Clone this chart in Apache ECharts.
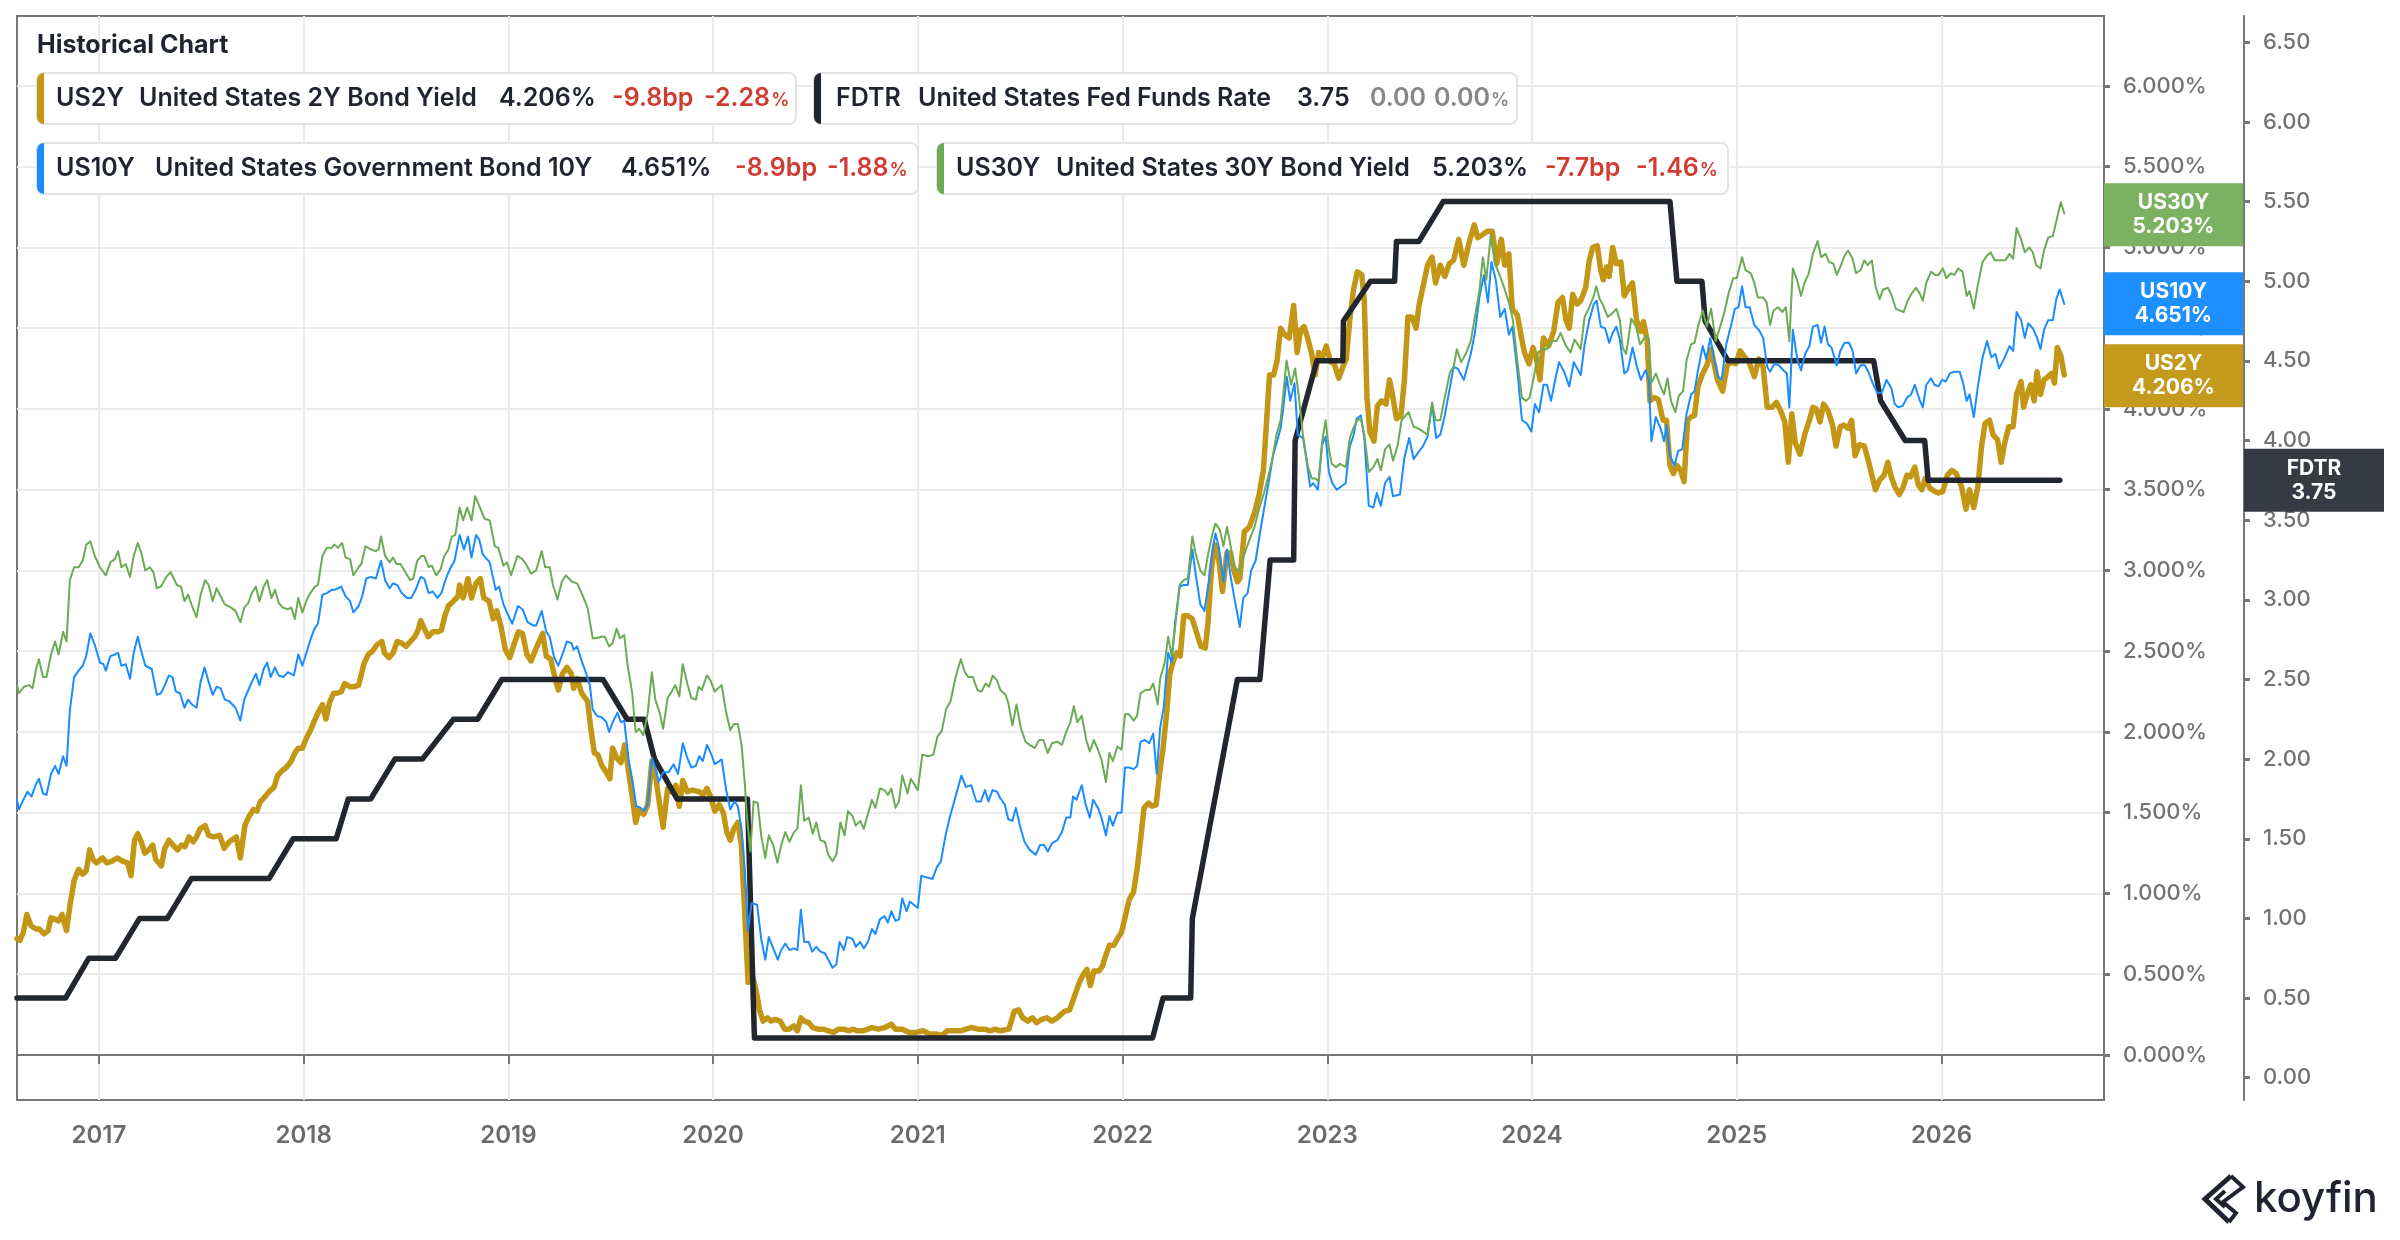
<!DOCTYPE html>
<html><head><meta charset="utf-8">
<script src="https://cdn.jsdelivr.net/npm/echarts@6/dist/echarts.min.js"></script>
<style>html,body{margin:0;padding:0;background:#fff}#c{width:2400px;height:1240px}</style>
</head><body><div id="c"></div>
<script>
// ---------- DATA ----------
const yearTicks = [2017,2018,2019,2020,2021,2022,2023,2024,2025,2026];
const pctTicks = [0,0.5,1,1.5,2,2.5,3,3.5,4,4.5,5,5.5,6];
const rateTicks = [0,0.5,1,1.5,2,2.5,3,3.5,4,4.5,5,5.5,6,6.5];

const us2y = [
[2016.600,0.72],[2016.614,0.71],[2016.631,0.76],[2016.648,0.87],[2016.668,0.80],[2016.693,0.78],[2016.710,0.78],[2016.732,0.75],[2016.752,0.77],[2016.766,0.85],[2016.786,0.84],[2016.803,0.83],[2016.820,0.87],[2016.842,0.77],[2016.858,0.92],[2016.879,1.08],[2016.901,1.15],[2016.921,1.12],[2016.938,1.14],[2016.955,1.27],[2016.971,1.21],[2016.988,1.19],[2017.017,1.22],[2017.039,1.19],[2017.064,1.20],[2017.089,1.22],[2017.115,1.20],[2017.140,1.19],[2017.157,1.11],[2017.174,1.33],[2017.190,1.37],[2017.207,1.32],[2017.224,1.25],[2017.244,1.27],[2017.263,1.30],[2017.278,1.21],[2017.305,1.17],[2017.322,1.28],[2017.342,1.33],[2017.362,1.30],[2017.384,1.27],[2017.404,1.30],[2017.421,1.29],[2017.440,1.35],[2017.460,1.32],[2017.477,1.35],[2017.494,1.40],[2017.519,1.42],[2017.536,1.36],[2017.561,1.35],[2017.590,1.36],[2017.612,1.28],[2017.637,1.32],[2017.671,1.35],[2017.691,1.22],[2017.713,1.42],[2017.730,1.47],[2017.755,1.52],[2017.772,1.51],[2017.789,1.57],[2017.805,1.59],[2017.831,1.63],[2017.856,1.66],[2017.873,1.73],[2017.895,1.76],[2017.915,1.78],[2017.940,1.82],[2017.957,1.87],[2017.974,1.90],[2017.994,1.90],[2018.013,1.96],[2018.033,2.01],[2018.053,2.07],[2018.075,2.13],[2018.092,2.17],[2018.109,2.08],[2018.126,2.18],[2018.146,2.24],[2018.163,2.24],[2018.184,2.25],[2018.201,2.30],[2018.227,2.28],[2018.243,2.28],[2018.269,2.29],[2018.294,2.42],[2018.316,2.48],[2018.336,2.50],[2018.358,2.54],[2018.382,2.56],[2018.395,2.49],[2018.417,2.46],[2018.437,2.49],[2018.457,2.56],[2018.479,2.55],[2018.500,2.53],[2018.521,2.56],[2018.543,2.59],[2018.559,2.63],[2018.572,2.69],[2018.589,2.64],[2018.609,2.59],[2018.631,2.62],[2018.653,2.62],[2018.673,2.63],[2018.690,2.72],[2018.707,2.78],[2018.732,2.81],[2018.754,2.84],[2018.762,2.91],[2018.779,2.83],[2018.803,2.95],[2018.820,2.83],[2018.842,2.92],[2018.863,2.95],[2018.880,2.83],[2018.906,2.81],[2018.926,2.70],[2018.943,2.75],[2018.963,2.66],[2018.985,2.51],[2019.007,2.46],[2019.027,2.54],[2019.049,2.62],[2019.069,2.61],[2019.091,2.48],[2019.111,2.44],[2019.133,2.51],
[2019.168,2.61],[2019.185,2.47],[2019.207,2.45],[2019.227,2.34],[2019.244,2.26],[2019.264,2.36],[2019.286,2.40],[2019.308,2.36],[2019.319,2.27],[2019.336,2.33],[2019.358,2.24],[2019.387,2.19],[2019.403,2.02],[2019.420,1.87],[2019.437,1.86],[2019.457,1.79],[2019.479,1.75],[2019.496,1.71],[2019.509,1.90],[2019.529,1.84],[2019.550,1.81],[2019.568,1.92],[2019.588,1.75],[2019.605,1.60],[2019.622,1.44],[2019.639,1.52],[2019.661,1.49],[2019.681,1.55],[2019.701,1.82],[2019.719,1.73],[2019.739,1.55],[2019.756,1.41],[2019.778,1.65],[2019.798,1.63],[2019.818,1.67],[2019.835,1.54],[2019.852,1.70],[2019.874,1.63],[2019.899,1.64],[2019.933,1.63],[2019.950,1.61],[2019.970,1.65],[2019.988,1.60],[2020.008,1.51],[2020.030,1.55],[2020.050,1.50],[2020.067,1.38],[2020.084,1.33],[2020.101,1.40],[2020.121,1.44],[2020.138,1.30],[2020.155,0.87],[2020.171,0.45],[2020.188,0.51],[2020.210,0.40],[2020.227,0.28],[2020.244,0.21],[2020.266,0.23],[2020.282,0.21],[2020.303,0.22],[2020.328,0.21],[2020.350,0.16],[2020.370,0.16],[2020.395,0.18],[2020.412,0.15],[2020.429,0.23],[2020.445,0.21],[2020.467,0.20],[2020.487,0.17],[2020.513,0.16],[2020.538,0.16],[2020.563,0.15],[2020.588,0.14],[2020.613,0.16],[2020.639,0.16],[2020.664,0.15],[2020.681,0.16],[2020.706,0.15],[2020.731,0.15],[2020.756,0.16],[2020.776,0.17],[2020.807,0.16],[2020.840,0.17],[2020.871,0.19],[2020.891,0.16],[2020.924,0.16],[2020.958,0.14],[2020.992,0.14],[2021.025,0.15],[2021.059,0.13],[2021.092,0.13],[2021.118,0.12],[2021.143,0.15],[2021.176,0.15],[2021.210,0.15],[2021.235,0.16],[2021.261,0.17],[2021.294,0.16],[2021.328,0.16],[2021.353,0.15],[2021.378,0.16],[2021.403,0.15],[2021.445,0.16],[2021.471,0.27],[2021.492,0.28],[2021.513,0.23],[2021.538,0.21],[2021.560,0.23],[2021.580,0.20],[2021.605,0.22],[2021.630,0.23],[2021.655,0.21],[2021.681,0.23],
[2021.716,0.27],[2021.742,0.28],[2021.767,0.37],[2021.789,0.45],[2021.809,0.50],[2021.826,0.53],[2021.843,0.43],[2021.860,0.52],[2021.885,0.52],[2021.902,0.55],[2021.919,0.62],[2021.936,0.68],[2021.958,0.68],[2021.975,0.72],[2021.995,0.76],[2022.012,0.85],[2022.032,0.96],[2022.054,1.01],[2022.071,1.15],[2022.088,1.33],[2022.105,1.53],[2022.127,1.56],[2022.144,1.54],[2022.164,1.55],[2022.181,1.74],[2022.198,1.90],[2022.215,2.11],[2022.231,2.36],[2022.248,2.44],[2022.265,2.49],[2022.282,2.47],[2022.299,2.72],[2022.319,2.72],[2022.341,2.70],[2022.363,2.61],[2022.383,2.53],[2022.404,2.52],[2022.417,2.67],[2022.434,3.00],[2022.451,3.16],[2022.468,3.09],[2022.488,2.87],[2022.510,3.11],[2022.527,3.11],[2022.544,3.00],[2022.561,2.93],[2022.573,2.95],[2022.595,3.24],[2022.620,3.27],[2022.645,3.36],[2022.667,3.47],[2022.688,3.62],[2022.704,3.93],[2022.718,4.21],[2022.738,4.21],[2022.755,4.30],[2022.772,4.50],[2022.792,4.46],[2022.814,4.44],[2022.836,4.64],[2022.853,4.35],[2022.870,4.49],[2022.887,4.51],[2022.904,4.44],[2022.924,4.34],[2022.941,4.21],[2022.958,4.35],[2022.975,4.31],[2022.995,4.39],[2023.017,4.29],[2023.034,4.28],[2023.056,4.19],[2023.076,4.26],[2023.093,4.31],[2023.110,4.55],[2023.127,4.73],[2023.147,4.85],[2023.169,4.83],[2023.181,4.67],[2023.194,4.07],[2023.208,3.86],[2023.228,3.80],[2023.245,4.02],[2023.265,4.05],[2023.287,4.03],[2023.304,4.18],[2023.321,4.07],[2023.338,3.94],[2023.360,3.96],[2023.377,4.18],[2023.394,4.57],[2023.414,4.57],[2023.434,4.50],[2023.448,4.64],[2023.465,4.74],[2023.490,4.89],[2023.512,4.94],[2023.529,4.78],[2023.552,4.89],[2023.574,4.82],[2023.596,4.90],[2023.617,4.92],[2023.642,5.05],[2023.667,4.89],[2023.693,5.03],[2023.718,5.14],[2023.735,5.06],[2023.760,5.08],[2023.782,5.10],[2023.806,5.10],[2023.828,4.90],[2023.850,5.05],[2023.867,4.89],[2023.887,4.96],[2023.904,4.62],[2023.929,4.58],[2023.946,4.46],[2023.963,4.35],[2023.985,4.28],[2024.005,4.38],[2024.022,4.31],[2024.039,4.18],[2024.056,4.44],[2024.081,4.39],[2024.106,4.48],[2024.127,4.66],[2024.149,4.69],[2024.166,4.55],[2024.182,4.50],[2024.199,4.71],[2024.221,4.65],[2024.238,4.67],
[2024.262,4.75],[2024.280,4.92],[2024.297,5.00],[2024.319,5.01],[2024.336,4.86],[2024.348,4.80],[2024.365,4.88],[2024.377,4.82],[2024.394,5.00],[2024.412,4.90],[2024.434,4.91],[2024.451,4.70],[2024.468,4.74],[2024.491,4.78],[2024.511,4.55],[2024.532,4.48],[2024.545,4.54],[2024.563,4.42],[2024.576,4.05],[2024.597,4.07],[2024.617,4.06],[2024.640,3.93],[2024.657,3.93],[2024.674,3.65],[2024.691,3.60],[2024.708,3.65],[2024.726,3.62],[2024.743,3.55],[2024.760,3.93],[2024.777,3.95],[2024.794,3.96],[2024.811,4.14],[2024.834,4.22],[2024.854,4.27],[2024.875,4.37],[2024.889,4.28],[2024.906,4.18],[2024.931,4.11],[2024.954,4.27],[2024.974,4.29],[2024.995,4.28],[2025.017,4.36],[2025.034,4.33],[2025.060,4.29],[2025.086,4.20],[2025.108,4.31],[2025.129,4.26],[2025.149,4.01],[2025.172,4.01],[2025.194,4.04],[2025.214,3.99],[2025.235,3.92],[2025.252,3.67],[2025.269,3.97],[2025.286,3.79],[2025.309,3.72],[2025.334,3.85],[2025.355,3.93],[2025.372,4.01],[2025.389,4.00],[2025.407,3.92],[2025.424,4.03],[2025.446,3.99],[2025.468,3.90],[2025.485,3.77],[2025.506,3.89],[2025.523,3.90],[2025.544,3.88],[2025.561,3.93],[2025.578,3.71],[2025.600,3.78],[2025.623,3.77],[2025.643,3.68],[2025.660,3.59],[2025.678,3.50],[2025.698,3.56],[2025.720,3.59],[2025.738,3.67],[2025.755,3.58],[2025.772,3.52],[2025.794,3.47],[2025.811,3.51],[2025.832,3.59],[2025.849,3.58],[2025.870,3.64],[2025.887,3.53],[2025.904,3.50],[2025.921,3.57],[2025.943,3.51],[2025.966,3.49],[2025.986,3.48],[2026.007,3.49],[2026.029,3.59],[2026.051,3.62],[2026.072,3.60],[2026.098,3.52],[2026.120,3.38],[2026.137,3.50],[2026.158,3.39],[2026.178,3.52],[2026.196,3.77],[2026.213,3.91],[2026.235,3.93],[2026.252,3.84],[2026.274,3.81],[2026.292,3.67],[2026.309,3.79],[2026.329,3.89],[2026.350,3.89],[2026.367,4.09],[2026.389,4.17],[2026.401,4.01],[2026.419,4.09],[2026.436,4.15],[2026.453,4.05],[2026.467,4.23],[2026.484,4.09],[2026.501,4.18],[2026.521,4.20],[2026.539,4.22],[2026.552,4.16],[2026.566,4.38],[2026.583,4.33],[2026.600,4.21]
];

const us10y = [
[2016.600,1.58],[2016.609,1.52],[2016.631,1.58],[2016.651,1.63],[2016.671,1.60],[2016.690,1.67],[2016.707,1.71],[2016.727,1.62],[2016.744,1.61],[2016.766,1.74],[2016.786,1.79],[2016.803,1.74],[2016.825,1.85],[2016.842,1.79],[2016.858,2.13],[2016.879,2.34],[2016.901,2.38],[2016.921,2.41],[2016.938,2.47],[2016.958,2.61],[2016.980,2.54],[2017.005,2.43],[2017.022,2.42],[2017.034,2.38],[2017.056,2.47],[2017.078,2.48],[2017.094,2.49],[2017.110,2.41],[2017.131,2.42],[2017.152,2.33],[2017.170,2.49],[2017.190,2.59],[2017.207,2.50],[2017.227,2.41],[2017.258,2.39],[2017.283,2.23],[2017.303,2.24],[2017.322,2.29],[2017.342,2.35],[2017.359,2.34],[2017.376,2.25],[2017.396,2.24],[2017.418,2.15],[2017.435,2.20],[2017.455,2.17],[2017.477,2.15],[2017.497,2.31],[2017.516,2.40],[2017.536,2.31],[2017.556,2.23],[2017.575,2.28],[2017.595,2.27],[2017.615,2.20],[2017.637,2.19],[2017.667,2.15],[2017.691,2.07],[2017.710,2.20],[2017.730,2.26],[2017.747,2.31],[2017.767,2.36],[2017.784,2.29],[2017.805,2.39],[2017.822,2.43],[2017.839,2.34],[2017.860,2.40],[2017.878,2.35],[2017.901,2.34],[2017.923,2.37],[2017.952,2.35],[2017.974,2.48],[2017.994,2.41],[2018.016,2.50],[2018.033,2.57],[2018.053,2.64],[2018.070,2.67],[2018.092,2.85],[2018.114,2.86],[2018.137,2.88],[2018.151,2.88],[2018.168,2.89],[2018.184,2.90],[2018.205,2.84],[2018.227,2.81],[2018.243,2.74],[2018.269,2.78],[2018.286,2.84],[2018.306,2.95],[2018.328,2.96],[2018.353,2.95],[2018.378,3.06],[2018.398,2.94],[2018.420,2.89],[2018.437,2.92],[2018.457,2.91],[2018.479,2.86],[2018.505,2.83],[2018.525,2.83],[2018.547,2.88],[2018.572,2.96],[2018.589,2.95],[2018.611,2.86],[2018.631,2.87],[2018.653,2.83],[2018.673,2.86],[2018.695,2.95],[2018.715,3.01],[2018.737,3.06],[2018.762,3.22],[2018.783,3.13],[2018.803,3.21],[2018.820,3.08],[2018.842,3.22],[2018.858,3.19],[2018.875,3.10],[2018.909,3.05],[2018.938,2.88],[2018.955,2.90],[2018.976,2.79],[2018.993,2.74],[2019.019,2.67],[2019.047,2.78],[2019.069,2.76],[2019.094,2.68],[2019.120,2.66],[2019.136,2.66],
[2019.163,2.75],[2019.185,2.62],[2019.202,2.59],[2019.224,2.46],[2019.244,2.41],[2019.264,2.48],[2019.286,2.56],[2019.308,2.55],[2019.319,2.51],[2019.336,2.53],[2019.358,2.44],[2019.378,2.37],[2019.398,2.29],[2019.412,2.14],[2019.432,2.10],[2019.457,2.09],[2019.479,2.06],[2019.492,2.00],[2019.513,2.07],[2019.533,2.12],[2019.550,2.06],[2019.566,2.07],[2019.588,1.82],[2019.605,1.71],[2019.625,1.54],[2019.647,1.53],[2019.664,1.51],[2019.681,1.55],[2019.701,1.84],[2019.718,1.78],[2019.734,1.69],[2019.756,1.75],[2019.782,1.75],[2019.807,1.80],[2019.829,1.74],[2019.852,1.93],[2019.874,1.84],[2019.894,1.78],[2019.916,1.79],[2019.933,1.85],[2019.950,1.82],[2019.970,1.92],[2019.992,1.86],[2020.008,1.80],[2020.042,1.83],[2020.064,1.64],[2020.084,1.52],[2020.104,1.57],[2020.121,1.54],[2020.139,1.40],[2020.155,1.14],[2020.171,0.77],[2020.188,0.94],[2020.215,0.93],[2020.235,0.72],[2020.255,0.59],[2020.272,0.73],[2020.294,0.66],[2020.316,0.59],[2020.333,0.65],[2020.353,0.69],[2020.373,0.65],[2020.395,0.66],[2020.412,0.65],[2020.429,0.90],[2020.445,0.70],[2020.467,0.70],[2020.484,0.64],[2020.504,0.67],[2020.524,0.64],[2020.546,0.63],[2020.563,0.59],[2020.583,0.54],[2020.602,0.56],[2020.618,0.70],[2020.639,0.65],[2020.655,0.73],[2020.681,0.72],[2020.697,0.67],[2020.719,0.70],[2020.736,0.66],[2020.756,0.70],[2020.776,0.78],[2020.793,0.75],[2020.815,0.84],[2020.837,0.86],[2020.854,0.82],[2020.871,0.89],[2020.891,0.83],[2020.908,0.84],[2020.924,0.97],[2020.945,0.89],[2020.961,0.95],[2021.000,0.91],[2021.017,1.11],[2021.042,1.10],[2021.072,1.09],[2021.092,1.16],[2021.113,1.20],[2021.134,1.35],[2021.156,1.47],[2021.180,1.58],[2021.193,1.64],[2021.213,1.73],[2021.235,1.66],[2021.261,1.67],[2021.286,1.57],[2021.308,1.57],[2021.328,1.64],[2021.345,1.57],[2021.365,1.64],[2021.387,1.63],[2021.403,1.59],[2021.425,1.55],[2021.442,1.46],[2021.462,1.45],[2021.479,1.53],[2021.499,1.42],[2021.521,1.32],[2021.546,1.27],[2021.576,1.24],[2021.597,1.30],[2021.617,1.30],[2021.635,1.26],[2021.655,1.31],[2021.681,1.33],
[2021.704,1.38],[2021.725,1.47],[2021.745,1.47],[2021.758,1.60],[2021.775,1.58],[2021.801,1.67],[2021.818,1.56],[2021.840,1.47],[2021.856,1.58],[2021.880,1.53],[2021.897,1.47],[2021.919,1.36],[2021.936,1.48],[2021.953,1.42],[2021.975,1.50],[2021.995,1.50],[2022.012,1.78],[2022.032,1.78],[2022.054,1.77],[2022.071,1.79],[2022.088,1.94],[2022.110,1.95],[2022.130,1.93],[2022.150,1.99],[2022.167,1.74],[2022.184,2.03],[2022.201,2.15],[2022.223,2.49],[2022.240,2.43],[2022.257,2.68],[2022.279,2.90],[2022.299,2.91],[2022.319,2.91],[2022.341,3.13],[2022.358,2.97],[2022.380,2.79],[2022.400,2.75],[2022.421,2.93],[2022.438,3.11],[2022.454,3.23],[2022.471,3.14],[2022.493,2.93],[2022.510,3.13],[2022.527,2.97],[2022.549,2.81],[2022.573,2.65],[2022.590,2.83],[2022.611,2.86],[2022.628,3.00],[2022.650,3.06],[2022.671,3.23],[2022.691,3.38],[2022.713,3.54],[2022.735,3.71],[2022.755,3.80],[2022.772,3.88],[2022.785,4.00],[2022.802,4.20],[2022.819,4.05],[2022.840,4.16],[2022.856,3.84],[2022.882,3.82],[2022.899,3.68],[2022.916,3.52],[2022.932,3.54],[2022.954,3.50],[2022.975,3.78],[2022.992,3.83],[2023.008,3.61],[2023.025,3.54],[2023.046,3.50],[2023.068,3.52],[2023.090,3.54],[2023.110,3.77],[2023.127,3.83],[2023.144,3.94],[2023.164,3.96],[2023.181,3.82],[2023.203,3.40],[2023.225,3.39],[2023.242,3.48],[2023.262,3.40],[2023.282,3.54],[2023.304,3.58],[2023.321,3.46],[2023.355,3.47],[2023.377,3.70],[2023.400,3.82],[2023.422,3.69],[2023.444,3.73],[2023.468,3.77],[2023.490,3.83],[2023.512,4.03],[2023.532,3.82],[2023.552,3.84],[2023.574,3.96],[2023.600,4.14],[2023.617,4.26],[2023.637,4.25],[2023.667,4.18],[2023.701,4.34],[2023.721,4.47],[2023.743,4.69],[2023.765,4.83],[2023.785,4.66],[2023.802,4.91],[2023.823,4.80],[2023.845,4.57],[2023.867,4.62],[2023.887,4.46],[2023.904,4.51],[2023.929,4.23],[2023.951,3.93],[2023.975,3.91],[2023.997,3.86],[2024.014,4.03],[2024.035,3.98],[2024.056,4.15],[2024.073,4.15],[2024.093,4.05],[2024.115,4.19],[2024.132,4.29],[2024.157,4.23],[2024.182,4.14],[2024.204,4.29],[2024.238,4.21],
[2024.257,4.40],[2024.280,4.55],[2024.302,4.65],[2024.316,4.67],[2024.336,4.51],[2024.357,4.50],[2024.377,4.41],[2024.394,4.47],[2024.412,4.51],[2024.429,4.43],[2024.451,4.22],[2024.468,4.24],[2024.491,4.38],[2024.511,4.27],[2024.532,4.18],[2024.554,4.24],[2024.571,4.18],[2024.583,3.80],[2024.605,3.95],[2024.628,3.88],[2024.645,3.80],[2024.657,3.90],[2024.674,3.71],[2024.696,3.65],[2024.714,3.74],[2024.734,3.75],[2024.755,3.97],[2024.777,4.09],[2024.794,4.11],[2024.811,4.24],[2024.834,4.39],[2024.851,4.31],[2024.871,4.44],[2024.889,4.31],[2024.909,4.20],[2024.926,4.18],[2024.949,4.40],[2024.971,4.51],[2024.991,4.62],[2025.009,4.63],[2025.026,4.76],[2025.043,4.63],[2025.063,4.63],[2025.086,4.52],[2025.108,4.49],[2025.129,4.44],[2025.149,4.26],[2025.163,4.23],[2025.184,4.28],[2025.206,4.27],[2025.228,4.24],[2025.245,4.22],[2025.257,4.01],[2025.274,4.49],[2025.297,4.30],[2025.314,4.24],[2025.334,4.34],[2025.355,4.39],[2025.372,4.51],[2025.395,4.52],[2025.412,4.41],[2025.429,4.51],[2025.446,4.40],[2025.463,4.38],[2025.489,4.27],[2025.506,4.36],[2025.527,4.41],[2025.549,4.41],[2025.566,4.36],[2025.583,4.22],[2025.605,4.27],[2025.626,4.27],[2025.643,4.23],[2025.664,4.16],[2025.686,4.10],[2025.708,4.10],[2025.732,4.18],[2025.755,4.13],[2025.772,4.03],[2025.789,4.01],[2025.811,4.02],[2025.832,4.07],[2025.852,4.09],[2025.870,4.15],[2025.892,4.06],[2025.909,4.01],[2025.926,4.15],[2025.949,4.19],[2025.966,4.15],[2025.986,4.14],[2026.003,4.18],[2026.021,4.17],[2026.041,4.22],[2026.063,4.23],[2026.089,4.23],[2026.106,4.16],[2026.123,4.05],[2026.137,4.09],[2026.158,3.95],[2026.178,4.14],[2026.201,4.32],[2026.223,4.42],[2026.244,4.32],[2026.264,4.34],[2026.281,4.25],[2026.298,4.29],[2026.316,4.34],[2026.333,4.39],[2026.350,4.36],[2026.367,4.60],[2026.389,4.55],[2026.407,4.44],[2026.424,4.53],[2026.446,4.50],[2026.467,4.44],[2026.484,4.37],[2026.501,4.49],[2026.521,4.55],[2026.544,4.55],[2026.561,4.68],[2026.578,4.74],[2026.600,4.65]
];

const us30y = [
[2016.600,2.29],[2016.609,2.24],[2016.634,2.28],[2016.660,2.29],[2016.676,2.27],[2016.693,2.39],[2016.707,2.45],[2016.727,2.34],[2016.744,2.34],[2016.766,2.48],[2016.786,2.56],[2016.803,2.48],[2016.825,2.62],[2016.842,2.56],[2016.858,2.94],[2016.879,3.02],[2016.901,3.02],[2016.921,3.06],[2016.938,3.16],[2016.958,3.18],[2016.980,3.09],[2017.005,3.02],[2017.034,2.97],[2017.056,3.05],[2017.078,3.07],[2017.094,3.12],[2017.110,3.02],[2017.131,3.04],[2017.152,2.96],[2017.170,3.09],[2017.190,3.17],[2017.207,3.11],[2017.227,3.00],[2017.249,3.02],[2017.266,2.99],[2017.283,2.89],[2017.303,2.90],[2017.329,2.96],[2017.350,2.99],[2017.381,2.91],[2017.401,2.90],[2017.418,2.81],[2017.435,2.85],[2017.455,2.78],[2017.477,2.71],[2017.497,2.85],[2017.519,2.94],[2017.536,2.91],[2017.556,2.81],[2017.575,2.89],[2017.595,2.84],[2017.615,2.79],[2017.646,2.77],[2017.667,2.75],[2017.691,2.68],[2017.710,2.77],[2017.730,2.80],[2017.747,2.86],[2017.767,2.90],[2017.784,2.81],[2017.805,2.90],[2017.822,2.94],[2017.843,2.83],[2017.860,2.88],[2017.878,2.80],[2017.898,2.77],[2017.923,2.76],[2017.940,2.77],[2017.957,2.70],[2017.974,2.83],[2017.994,2.74],[2018.016,2.82],[2018.033,2.86],[2018.055,2.90],[2018.070,2.91],[2018.092,3.09],[2018.114,3.14],[2018.137,3.14],[2018.151,3.16],[2018.168,3.14],[2018.188,3.17],[2018.205,3.08],[2018.227,3.07],[2018.243,2.97],[2018.269,3.02],[2018.282,3.04],[2018.302,3.15],[2018.328,3.13],[2018.353,3.12],[2018.366,3.13],[2018.378,3.21],[2018.398,3.09],[2018.420,3.05],[2018.437,3.08],[2018.454,3.04],[2018.474,3.04],[2018.496,2.99],[2018.521,2.94],[2018.535,2.95],[2018.555,3.06],[2018.575,3.09],[2018.589,3.09],[2018.611,3.02],[2018.626,3.03],[2018.648,2.97],[2018.670,3.01],[2018.687,3.09],[2018.707,3.13],[2018.724,3.21],[2018.741,3.22],[2018.762,3.39],[2018.779,3.31],[2018.799,3.39],[2018.820,3.31],[2018.838,3.46],[2018.858,3.40],[2018.884,3.32],[2018.909,3.31],[2018.934,3.15],[2018.951,3.14],[2018.976,3.03],[2018.993,3.05],[2019.013,2.97],[2019.044,3.09],[2019.069,3.07],[2019.086,3.04],[2019.111,2.98],[2019.136,3.00],
[2019.163,3.12],[2019.180,3.02],[2019.202,3.02],[2019.218,2.91],[2019.240,2.82],[2019.261,2.93],[2019.281,2.97],[2019.311,2.93],[2019.336,2.92],[2019.361,2.85],[2019.387,2.77],[2019.412,2.58],[2019.432,2.58],[2019.454,2.59],[2019.471,2.59],[2019.492,2.53],[2019.509,2.55],[2019.529,2.64],[2019.546,2.58],[2019.566,2.60],[2019.583,2.41],[2019.605,2.24],[2019.622,2.00],[2019.639,2.02],[2019.659,1.98],[2019.681,2.12],[2019.701,2.37],[2019.718,2.20],[2019.739,2.12],[2019.756,2.02],[2019.778,2.21],[2019.798,2.25],[2019.815,2.29],[2019.835,2.22],[2019.852,2.42],[2019.874,2.30],[2019.894,2.21],[2019.916,2.20],[2019.929,2.28],[2019.945,2.26],[2019.970,2.35],[2019.987,2.32],[2020.008,2.25],[2020.042,2.29],[2020.064,2.12],[2020.084,2.01],[2020.101,2.05],[2020.121,2.05],[2020.139,1.92],[2020.155,1.68],[2020.165,1.48],[2020.182,1.26],[2020.198,1.57],[2020.218,1.56],[2020.235,1.36],[2020.255,1.22],[2020.272,1.36],[2020.294,1.30],[2020.314,1.19],[2020.333,1.30],[2020.353,1.38],[2020.373,1.32],[2020.395,1.38],[2020.412,1.40],[2020.429,1.67],[2020.445,1.45],[2020.467,1.47],[2020.487,1.37],[2020.504,1.44],[2020.524,1.33],[2020.546,1.32],[2020.563,1.24],[2020.583,1.20],[2020.602,1.24],[2020.622,1.44],[2020.642,1.36],[2020.659,1.51],[2020.681,1.48],[2020.697,1.42],[2020.719,1.45],[2020.736,1.40],[2020.756,1.49],[2020.776,1.58],[2020.793,1.53],[2020.815,1.65],[2020.837,1.64],[2020.854,1.61],[2020.871,1.65],[2020.891,1.53],[2020.908,1.57],[2020.924,1.73],[2020.950,1.62],[2020.966,1.71],[2021.000,1.64],[2021.022,1.86],[2021.050,1.85],[2021.076,1.86],[2021.096,1.97],[2021.118,2.01],[2021.138,2.14],[2021.160,2.19],[2021.185,2.34],[2021.210,2.45],[2021.230,2.37],[2021.247,2.34],[2021.269,2.34],[2021.291,2.26],[2021.311,2.25],[2021.331,2.30],[2021.348,2.28],[2021.366,2.35],[2021.387,2.32],[2021.403,2.26],[2021.429,2.23],[2021.442,2.18],[2021.462,2.04],[2021.482,2.17],[2021.504,2.02],[2021.526,1.94],[2021.546,1.92],[2021.571,1.90],[2021.593,1.95],[2021.613,1.95],[2021.634,1.87],[2021.655,1.93],[2021.681,1.94],
[2021.704,1.92],[2021.725,2.00],[2021.745,2.06],[2021.762,2.16],[2021.779,2.06],[2021.801,2.10],[2021.823,1.95],[2021.840,1.88],[2021.860,1.95],[2021.880,1.89],[2021.897,1.83],[2021.919,1.69],[2021.936,1.87],[2021.953,1.82],[2021.975,1.91],[2021.995,1.89],[2022.012,2.11],[2022.032,2.11],[2022.054,2.07],[2022.071,2.10],[2022.088,2.24],[2022.113,2.26],[2022.133,2.26],[2022.150,2.30],[2022.172,2.17],[2022.184,2.33],[2022.206,2.43],[2022.223,2.59],[2022.240,2.47],[2022.257,2.65],[2022.279,2.91],[2022.299,2.94],[2022.319,2.95],[2022.341,3.21],[2022.358,3.10],[2022.380,3.00],[2022.400,2.97],[2022.421,3.12],[2022.438,3.22],[2022.454,3.29],[2022.476,3.25],[2022.493,3.15],[2022.510,3.27],[2022.527,3.16],[2022.544,3.03],[2022.569,2.99],[2022.586,3.07],[2022.606,3.14],[2022.623,3.20],[2022.645,3.27],[2022.671,3.40],[2022.691,3.48],[2022.713,3.59],[2022.730,3.68],[2022.752,3.84],[2022.772,3.93],[2022.789,4.14],[2022.801,4.30],[2022.823,4.15],[2022.843,4.25],[2022.860,4.09],[2022.882,3.83],[2022.904,3.65],[2022.924,3.57],[2022.941,3.57],[2022.958,3.55],[2022.975,3.80],[2022.992,3.93],[2023.008,3.75],[2023.022,3.66],[2023.042,3.64],[2023.063,3.66],[2023.090,3.64],[2023.110,3.82],[2023.127,3.88],[2023.147,3.93],[2023.164,3.94],[2023.181,3.84],[2023.203,3.61],[2023.225,3.64],[2023.245,3.69],[2023.262,3.62],[2023.282,3.75],[2023.304,3.78],[2023.321,3.68],[2023.343,3.77],[2023.363,3.93],[2023.397,3.98],[2023.422,3.89],[2023.444,3.88],[2023.468,3.86],[2023.490,3.84],[2023.512,4.04],[2023.529,3.93],[2023.552,3.93],[2023.574,4.07],[2023.600,4.23],[2023.617,4.26],[2023.633,4.37],[2023.654,4.29],[2023.676,4.34],[2023.701,4.42],[2023.721,4.57],[2023.743,4.73],[2023.760,4.94],[2023.777,4.80],[2023.799,5.08],[2023.819,4.90],[2023.845,4.82],[2023.867,4.74],[2023.887,4.66],[2023.907,4.55],[2023.929,4.29],[2023.951,4.07],[2023.971,4.05],[2023.988,4.07],[2024.008,4.19],[2024.030,4.35],[2024.052,4.37],[2024.073,4.37],[2024.098,4.42],[2024.120,4.42],[2024.140,4.47],[2024.166,4.39],[2024.188,4.35],[2024.208,4.43],[2024.238,4.37],
[2024.257,4.57],[2024.280,4.63],[2024.302,4.70],[2024.314,4.76],[2024.331,4.68],[2024.348,4.64],[2024.370,4.57],[2024.391,4.59],[2024.412,4.62],[2024.429,4.55],[2024.443,4.38],[2024.460,4.34],[2024.485,4.56],[2024.508,4.51],[2024.528,4.40],[2024.554,4.45],[2024.571,4.43],[2024.583,4.16],[2024.605,4.22],[2024.628,4.14],[2024.645,4.09],[2024.662,4.19],[2024.679,4.05],[2024.700,3.98],[2024.717,4.08],[2024.738,4.11],[2024.755,4.30],[2024.777,4.40],[2024.794,4.41],[2024.811,4.51],[2024.834,4.61],[2024.854,4.51],[2024.875,4.62],[2024.897,4.42],[2024.919,4.51],[2024.940,4.60],[2024.961,4.72],[2024.983,4.81],[2025.000,4.81],[2025.026,4.94],[2025.043,4.86],[2025.069,4.84],[2025.086,4.78],[2025.103,4.69],[2025.129,4.69],[2025.146,4.66],[2025.163,4.52],[2025.180,4.61],[2025.201,4.63],[2025.223,4.60],[2025.240,4.63],[2025.257,4.42],[2025.274,4.87],[2025.297,4.79],[2025.314,4.70],[2025.331,4.78],[2025.352,4.84],[2025.372,4.96],[2025.395,5.04],[2025.412,4.94],[2025.434,4.96],[2025.451,4.91],[2025.472,4.90],[2025.489,4.83],[2025.506,4.88],[2025.527,4.95],[2025.544,4.98],[2025.566,4.93],[2025.583,4.84],[2025.605,4.86],[2025.623,4.92],[2025.640,4.89],[2025.660,4.92],[2025.678,4.76],[2025.698,4.68],[2025.715,4.74],[2025.738,4.75],[2025.755,4.71],[2025.777,4.62],[2025.794,4.61],[2025.815,4.60],[2025.835,4.67],[2025.852,4.71],[2025.875,4.75],[2025.892,4.72],[2025.909,4.67],[2025.926,4.78],[2025.949,4.85],[2025.969,4.83],[2025.986,4.83],[2026.007,4.87],[2026.024,4.81],[2026.046,4.84],[2026.063,4.83],[2026.081,4.87],[2026.103,4.85],[2026.123,4.70],[2026.137,4.73],[2026.158,4.62],[2026.178,4.77],[2026.201,4.91],[2026.223,4.95],[2026.240,4.97],[2026.261,4.92],[2026.286,4.92],[2026.312,4.92],[2026.333,4.96],[2026.350,4.93],[2026.367,5.12],[2026.389,5.05],[2026.407,4.97],[2026.429,5.00],[2026.446,4.97],[2026.463,4.89],[2026.484,4.87],[2026.501,4.98],[2026.521,5.06],[2026.544,5.07],[2026.566,5.19],[2026.583,5.28],[2026.600,5.21]
];

const fdtr = [
[2016.600,0.50],[2016.837,0.50],[2016.951,0.75],[2017.081,0.75],[2017.199,1.00],[2017.334,1.00],[2017.452,1.25],[2017.831,1.25],[2017.949,1.50],[2018.159,1.50],[2018.218,1.75],[2018.328,1.75],[2018.446,2.00],[2018.580,2.00],[2018.732,2.25],[2018.850,2.25],[2018.968,2.50],[2019.462,2.50],[2019.580,2.25],[2019.664,2.25],[2019.714,2.00],[2019.824,1.75],[2020.168,1.75],[2020.202,0.25],[2022.147,0.25],[2022.198,0.50],[2022.333,0.50],[2022.341,1.00],[2022.561,2.50],[2022.671,2.50],[2022.721,3.25],[2022.836,3.25],[2022.843,4.00],[2022.949,4.50],[2023.076,4.50],[2023.079,4.75],[2023.211,5.00],[2023.329,5.00],[2023.338,5.25],[2023.448,5.25],[2023.566,5.50],[2024.674,5.50],[2024.708,5.00],[2024.830,5.00],[2024.846,4.75],[2024.957,4.50],[2025.669,4.50],[2025.703,4.25],[2025.823,4.00],[2025.918,4.00],[2025.935,3.75],[2026.578,3.75]
];

const legendInfo = [
  {sym:'US2Y',  name:'United States 2Y Bond Yield',          last:'4.206%', chg:'-9.8bp', pct:'-2.28', tone:'red'},
  {sym:'FDTR',  name:'United States Fed Funds Rate',         last:'3.75',   chg:'0.00',   pct:'0.00',  tone:'gray'},
  {sym:'US10Y', name:'United States Government Bond 10Y',    last:'4.651%', chg:'-8.9bp', pct:'-1.88', tone:'red'},
  {sym:'US30Y', name:'United States 30Y Bond Yield',         last:'5.203%', chg:'-7.7bp', pct:'-1.46', tone:'red'}
];
const lastValues = {US2Y:4.206, US10Y:4.651, US30Y:5.203, FDTR:3.75};

// ---------- STYLE ----------
const COL = {US2Y:'#c39616', US10Y:'#1a8cff', US30Y:'#6caa55', FDTR:'#22262d'};
const BOX = {US2Y:'#c49a1c', US10Y:'#1e8fff', US30Y:'#7cb162', FDTR:'#363a42'};
const TXT = '#1f2430', RED = '#d13c32', GRAY = '#878787', AX = '#777777', GRID = '#ebebeb';
const FONT = 'Inter, "Noto Sans", sans-serif';

const X_MIN = 2016.600, X_MAX = 2026.794;
const L_MIN = -0.2786, L_MAX = 6.433;
const R_MIN = -0.140, R_MAX = 6.665;

const chart = echarts.init(document.getElementById('c'), null, {renderer:'canvas'});

function lineSeries(name, data, yIdx, width) {
  return {name, type:'line', data, yAxisIndex:yIdx, showSymbol:false, symbol:'none',
    clip:true, silent:true, animation:false,
    lineStyle:{color:COL[name], width, cap:'round', join:'round'}};
}

chart.setOption({
  backgroundColor:'#ffffff',
  animation:false,
  grid:{left:17, top:16, right:296, bottom:140, show:true, borderColor:AX, borderWidth:2,
        backgroundColor:'transparent', containLabel:false, outerBoundsMode:'none'},
  xAxis:{type:'value', min:X_MIN, max:X_MAX,
    axisLine:{show:true, lineStyle:{color:AX, width:2}},
    axisTick:{show:true, customValues:yearTicks, length:9, lineStyle:{color:AX, width:2}},
    axisLabel:{show:true, customValues:yearTicks, margin:24, formatter:v=>String(Math.round(v)),
      color:'#6b6b6b', fontSize:24, fontWeight:600, fontFamily:FONT},
    splitLine:{show:true, lineStyle:{color:GRID, width:2}}
  },
  yAxis:[
    {type:'value', position:'right', min:L_MIN, max:L_MAX, offset:0,
      axisLine:{show:true, lineStyle:{color:AX, width:2}},
      axisTick:{show:true, customValues:pctTicks, length:6, lineStyle:{color:AX, width:3}},
      axisLabel:{show:true, customValues:pctTicks, margin:19, formatter:v=>v.toFixed(3)+'%',
        color:'#737373', fontSize:22, fontWeight:500, fontFamily:FONT},
      splitLine:{show:true, lineStyle:{color:GRID, width:2}}
    },
    {type:'value', position:'right', min:R_MIN, max:R_MAX, offset:140,
      axisLine:{show:true, lineStyle:{color:AX, width:2}},
      axisTick:{show:true, customValues:rateTicks, length:6, lineStyle:{color:AX, width:3}},
      axisLabel:{show:true, customValues:rateTicks, margin:19, formatter:v=>v.toFixed(2),
        color:'#737373', fontSize:22, fontWeight:500, fontFamily:FONT},
      splitLine:{show:false}
    }
  ],
  series:[
    lineSeries('US2Y', us2y, 0, 5.5),
    lineSeries('FDTR', fdtr, 1, 5.5),
    lineSeries('US10Y', us10y, 0, 2),
    lineSeries('US30Y', us30y, 0, 2)
  ]
});

// ---------- OVERLAYS ----------
const mctx = document.createElement('canvas').getContext('2d');
function tw(t, font){ mctx.font = font; return mctx.measureText(t).width; }

const els = [];
els.push({type:'text', x:37, y:45, z:200, style:{text:'Historical Chart', fill:TXT,
  font:'700 25px '+FONT, verticalAlign:'middle'}});

// chip layout (positions only)
const chipLayout = [
  {x:37,  y:73,  w:759, xs:[56,139,499,612,704]},
  {x:814, y:73,  w:703, xs:[836,918,1297,1370,1434]},
  {x:37,  y:143, w:881, xs:[56,155,621,735,827]},
  {x:937, y:143, w:791, xs:[956,1056,1432,1545,1636]}
];
const H = 51;
legendInfo.forEach((it, i) => {
  const L = chipLayout[i];
  const cy = L.y + H/2;
  els.push({type:'rect', z:200, shape:{x:L.x, y:L.y, width:L.w, height:H, r:7},
    style:{fill:'#ffffff', stroke:'#e3e3e3', lineWidth:2}});
  els.push({type:'rect', z:201, shape:{x:L.x, y:L.y, width:7, height:H, r:[7,0,0,7]},
    style:{fill:COL[it.sym]}});
  const f = '600 25px '+FONT;
  const chgCol = it.tone === 'red' ? RED : GRAY;
  const parts = [[it.sym,TXT],[it.name,TXT],[it.last,TXT],[it.chg,chgCol],[it.pct,chgCol]];
  parts.forEach((p, k) => {
    els.push({type:'text', z:202, x:L.xs[k], y:cy, style:{text:p[0], fill:p[1], font:f, verticalAlign:'middle'}});
  });
  els.push({type:'text', z:202, x:L.xs[4] + tw(it.pct, f) + 1, y:cy + 2.5,
    style:{text:'%', fill:chgCol, font:'600 18px '+FONT, verticalAlign:'middle'}});
});

// last-value boxes on the axes
const gx = chart.convertToPixel({xAxisIndex:0}, X_MAX);
[['US30Y',0],['US10Y',0],['US2Y',0],['FDTR',1]].forEach(([k, ax]) => {
  const v = lastValues[k];
  const py = chart.convertToPixel({yAxisIndex:ax}, v);
  const bx = ax === 0 ? gx : gx + 140;
  const bw = ax === 0 ? 139 : 140;
  const label = k + '\n' + (ax === 0 ? v.toFixed(3) + '%' : v.toFixed(2));
  els.push({type:'rect', z:210, shape:{x:bx, y:py-31.5, width:bw, height:63}, style:{fill:BOX[k]}});
  els.push({type:'text', z:211, x:bx + bw/2, y:py, style:{text:label, fill:'#ffffff',
    font:'700 21px '+FONT, align:'center', verticalAlign:'middle', lineHeight:24}});
});

// koyfin logo
els.push({type:'polyline', z:200, shape:{points:[[2231,1176],[2205,1199],[2229,1222]]},
  style:{stroke:'#1f2430', lineWidth:5, fill:null, lineJoin:'miter'}});
els.push({type:'polyline', z:200, shape:{points:[[2231,1176],[2243,1187],[2223,1202],[2236,1213],[2229,1222]]},
  style:{stroke:'#1f2430', lineWidth:4, fill:null, lineJoin:'miter'}});
els.push({type:'polyline', z:200, shape:{points:[[2225,1191],[2216,1199],[2225,1207]]},
  style:{stroke:'#1f2430', lineWidth:4, fill:null}});
els.push({type:'text', z:200, x:2254, y:1199, style:{text:'koyfin', fill:'#1f2430',
  font:'500 42px '+FONT, verticalAlign:'middle'}});

chart.setOption({graphic:{elements:els}});
</script></body></html>
